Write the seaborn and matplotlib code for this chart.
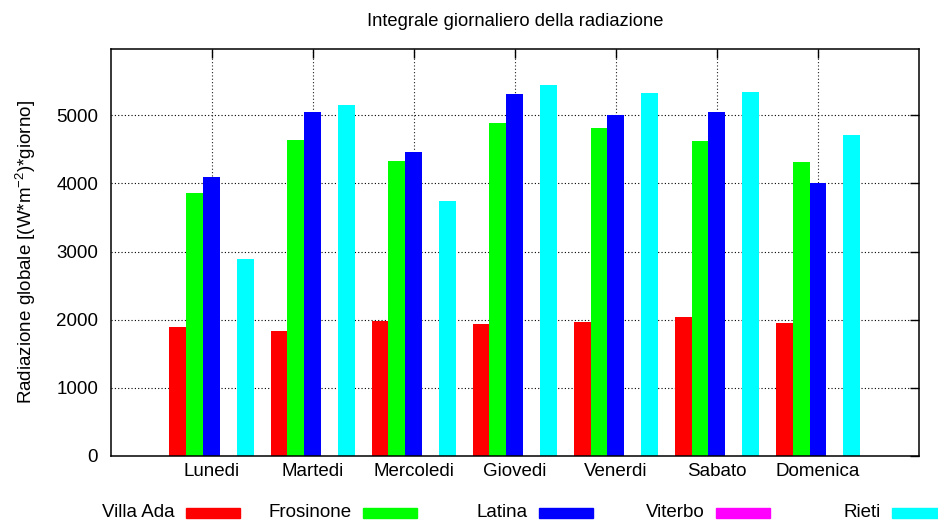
import pandas as pd
import numpy as np
import matplotlib
matplotlib.use("Agg")
import matplotlib.pyplot as plt
from matplotlib.patches import Rectangle
import seaborn as sns

sns.set_theme(style="white")
plt.rcParams['font.family'] = ['Liberation Sans', 'DejaVu Sans']
plt.rcParams['mathtext.default'] = 'regular'
plt.rcParams['text.color'] = 'black'
plt.rcParams['axes.labelcolor'] = 'black'

# data
giorni = ["Lunedi", "Martedi", "Mercoledi", "Giovedi", "Venerdi", "Sabato", "Domenica"]
stazioni = ["Villa Ada", "Frosinone", "Latina", "Viterbo", "Rieti"]
villa_ada = [1890, 1830, 1980, 1935, 1965, 2035, 1950]
frosinone = [3860, 4640, 4330, 4885, 4815, 4625, 4315]
latina = [4090, 5050, 4460, 5315, 5000, 5050, 4000]
viterbo = [0, 0, 0, 0, 0, 0, 0]
rieti = [2890, 5150, 3740, 5445, 5330, 5340, 4710]
colori = ["#ff0000", "#00ff00", "#0000ff", "#ff00ff", "#00ffff"]
yticks = [0, 1000, 2000, 3000, 4000, 5000]

valori = [villa_ada, frosinone, latina, viterbo, rieti]
df = pd.DataFrame([
    {"giorno": g, "stazione": s, "valore": v[i]}
    for s, v in zip(stazioni, valori)
    for i, g in enumerate(giorni)
])

fig = plt.figure(figsize=(9.38, 5.21), dpi=100)
ax = fig.add_axes([110.5 / 938, 1 - 456 / 521, (919 - 110.5) / 938, (456 - 48.5) / 521])

sns.barplot(data=df, x="giorno", y="valore", hue="stazione", order=giorni,
            hue_order=stazioni, palette=colori, width=5 / 6, gap=0,
            saturation=1, linewidth=0, legend=False, ax=ax, errorbar=None)

ax.set_xlim(-1, 7)
ax.set_ylim(0, 5980)
ax.set_yticks(yticks)
ax.set_axisbelow(True)
ax.grid(True, color="#222222", linestyle=(0, (1, 2)), linewidth=0.8)
ax.grid(False, axis="y")
for y in yticks[1:]:
    ax.axhline(y, color="black", linestyle=(0, (1, 2)), linewidth=0.8, zorder=0.5)

for sp in ax.spines.values():
    sp.set_visible(True)
    sp.set_color("black")
    sp.set_linewidth(1.1)

ax.tick_params(axis="both", direction="in", length=6.5, width=1, colors="black",
               labelsize=13.5, top=True, right=True)
ax.tick_params(axis="y", pad=9)
ax.tick_params(axis="x", pad=5)
ax.set_xlabel("")
ax.set_ylabel(r"Radiazione globale [(W*m$^{-2}$)*giorno]", fontsize=13.5)
ax.yaxis.set_label_coords(-0.09, 0.5)
ax.set_title("Integrale giornaliero della radiazione", fontsize=13.2, pad=16)

# legend row at the bottom, gnuplot style (text then sample)
for k, (s, c) in enumerate(zip(stazioni, colori)):
    x0 = 186 + k * 176.5
    fig.text((x0 - 11) / 938, 1 - 512.5 / 521, s, ha="right", va="center", fontsize=13.5)
    fig.patches.append(Rectangle((x0 / 938, 1 - 517.5 / 521), 54 / 938, 10 / 521,
                                 transform=fig.transFigure, color=c, figure=fig))

fig.savefig("out.png", dpi=100)
